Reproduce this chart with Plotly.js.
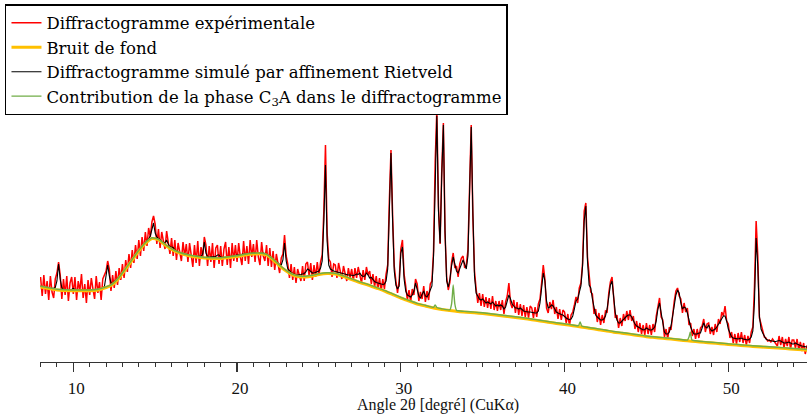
<!DOCTYPE html>
<html>
<head>
<meta charset="utf-8">
<script src="https://cdn.plot.ly/plotly-3.0.1.min.js"></script>
<style>
html, body { margin: 0; padding: 0; overflow: hidden; background: #fff; }
#chart { width: 836px; height: 414px; }
</style>
</head>
<body>
<div id="chart"></div>
<script>
// Angle grid of the measured / simulated patterns (2θ, degrees)
const angleStart = 8.0;
const angleStep = 0.1;

// Simulated pattern (Rietveld refinement), one value per 0.1° from 8.0° to 55.0°
const calcIntensity = [
75, 74.6, 74.3, 74, 73.6, 73.3, 73, 72.8, 72.6, 73.5,
80, 97, 82, 73, 71.8, 71.5, 71.4, 71.3, 71.3, 71.5,
72.5, 71.5, 71.2, 71.2, 71.2, 71.2, 71.2, 71.2, 71.2, 71.3,
71.3, 71.4, 71.5, 71.6, 71.8, 72, 72.3, 72.6, 73, 74.5,
84, 96, 85, 78, 77.5, 79, 80, 82, 84, 86.3,
88.5, 90.8, 93, 95.3, 97.5, 99.8, 102, 104.3, 106.5, 108.8,
111, 113, 115, 117, 118.7, 120.5, 122, 125, 133, 138,
128, 124, 122.5, 121, 119.5, 118.5, 118.5, 121, 117, 114,
114, 113.5, 111, 110, 109.2, 108.5, 108.2, 107.7, 107.3, 106.9,
106.5, 106.2, 105.8, 105.5, 105.2, 105, 104.8, 104.6, 104.5, 107,
119, 108, 104.5, 104, 104, 104, 104, 104.5, 106, 106,
104, 103.6, 103.7, 103.8, 104, 104.3, 104.6, 104.9, 105.2, 105.5,
105.8, 106.1, 106.4, 106.7, 107, 107.3, 107.6, 107.8, 108, 108.1,
108.2, 108.3, 108.3, 108.3, 108.3, 108.2, 108, 107.5, 106.8, 105.8,
105, 103.5, 102, 100.5, 99, 97.5, 96.5, 96, 101, 118,
100, 92, 90, 88.5, 87.5, 86.5, 86.3, 86, 86, 86.5,
87, 87.5, 89, 92, 91, 89, 88, 88, 88.5, 89,
90, 93, 100, 140, 196, 120, 96, 92, 90.5, 90,
89.5, 89, 88.5, 88, 87.5, 87, 86.5, 86, 86, 86,
85.5, 85.5, 86, 87, 86.5, 88, 85.5, 84.5, 85, 88,
86, 83, 83.5, 81, 79.5, 78.5, 78, 77, 76.5, 76.5,
77, 80, 92, 150, 208, 140, 90, 76, 72, 75,
108, 114, 82, 70, 66, 65, 64, 66, 70, 78,
72, 65, 63, 66, 70, 65, 64, 67, 72, 75,
105, 190, 245, 150, 118, 185, 236, 130, 80, 74,
82, 95, 104, 97, 90, 88, 92, 98, 101, 97,
92, 105, 170, 234, 150, 85, 68, 64, 62, 61,
62, 60, 58, 59, 58, 57, 59, 57, 55, 56,
55, 56, 55, 52, 54, 60, 66, 62, 57, 55,
53, 53, 52, 53, 51, 50, 49.5, 49, 49, 49,
48.5, 48.5, 48, 48, 50, 58, 72, 88, 80, 60,
53, 54, 56, 55, 52, 49, 48, 47, 46.5, 46,
44, 43, 42, 41.5, 42, 45, 52, 60, 62, 68,
75, 95, 140, 155, 100, 76, 73, 62, 52, 46,
44, 42, 41, 41, 42, 45, 52, 64, 76, 80,
62, 48, 41, 38, 38, 40, 42, 44, 45, 46,
46, 44, 40, 37, 35, 34, 33, 32, 31, 31.5,
33, 32, 31, 31, 32, 34, 40, 52, 58, 48,
36, 29, 27, 27, 29, 35, 45, 58, 66, 71,
68, 58, 52, 54, 53, 48, 40, 34, 30, 27,
27, 27, 28, 28, 33, 38, 34, 33, 36, 32,
30, 31, 32, 34, 37, 40, 43, 45, 45, 40,
32, 27, 24, 23, 22.5, 22, 22, 22.5, 23, 22,
21.5, 21, 21, 22, 24, 30, 60, 123, 95, 45,
32, 28, 25, 22, 21, 20.5, 20, 20, 19.5, 19.5,
20, 20.5, 20, 19, 18, 18, 18.5, 19, 18, 17,
17, 18, 17, 16, 15.5, 15, 14.5, 14, 14, 13.8,
13.5
];

// Experimental pattern, one value per 0.1° from 8.0° to 55.0°
const obsIntensity = [
84, 65, 86, 67, 80, 61, 85, 69, 63, 82,
88, 99, 86, 62, 82, 66, 85, 60, 78, 84,
67, 84, 61, 80, 70, 87, 63, 77, 58, 81,
66, 83, 72, 62, 85, 68, 79, 61, 82, 86,
90, 100, 92, 70, 86, 73, 90, 76, 93, 81,
97, 83, 101, 89, 107, 93, 111, 98, 116, 102,
121, 105, 124, 110, 129, 115, 133, 124, 139, 145,
137, 117, 132, 113, 129, 120, 112, 130, 119, 107,
123, 105, 121, 101, 118, 108, 100, 119, 105, 117,
99, 118, 104, 94, 116, 98, 120, 95, 114, 103,
124, 116, 95, 115, 99, 118, 93, 113, 116, 97,
115, 95, 112, 119, 96, 114, 93, 118, 100, 116,
99, 118, 104, 96, 120, 100, 115, 97, 121, 104,
117, 99, 121, 104, 96, 119, 105, 100, 116, 95,
113, 94, 110, 91, 107, 95, 88, 103, 107, 126,
105, 97, 83, 97, 81, 94, 78, 92, 85, 80,
95, 80, 97, 99, 85, 98, 81, 96, 84, 99,
85, 99, 106, 150, 216, 128, 102, 99, 84, 97,
96, 83, 98, 89, 82, 95, 86, 80, 93, 83,
92, 80, 93, 83, 94, 85, 78, 91, 81, 94,
86, 90, 77, 87, 74, 85, 72, 83, 70, 82,
72, 87, 96, 160, 211, 145, 95, 80, 68, 80,
112, 121, 87, 75, 61, 71, 59, 72, 66, 82,
77, 60, 69, 62, 75, 59, 70, 61, 77, 80,
110, 200, 251, 155, 117, 190, 238, 128, 84, 71,
79, 99, 108, 93, 95, 84, 97, 103, 105, 93,
96, 111, 175, 236, 145, 90, 72, 58, 68, 55,
67, 54, 64, 53, 63, 52, 65, 51, 60, 50,
60, 51, 61, 47, 59, 65, 78, 58, 53, 61,
48, 59, 46, 57, 45, 56, 44, 54, 43, 55,
53, 43, 54, 44, 57, 62, 78, 96, 82, 53,
48, 59, 52, 61, 47, 54, 42, 52, 41, 51,
49, 38, 47, 35, 46, 49, 56, 64, 58, 73,
78, 98, 150, 158, 104, 82, 69, 67, 47, 52,
39, 48, 36, 46, 38, 50, 49, 68, 79, 84,
66, 43, 46, 33, 43, 35, 47, 40, 50, 41,
51, 40, 45, 32, 40, 29, 38, 27, 36, 26,
38, 27, 36, 26, 37, 29, 45, 55, 63, 44,
41, 24, 32, 22, 34, 31, 49, 60, 70, 73,
65, 62, 48, 58, 49, 53, 36, 38, 25, 32,
22, 32, 23, 33, 35, 42, 29, 37, 38, 27,
34, 26, 37, 29, 42, 37, 49, 45, 55, 40,
37, 23, 29, 18, 27, 17, 28, 19, 29, 18,
26, 16, 25, 18, 29, 34, 75, 140, 105, 43,
37, 29, 24, 23, 20, 21, 19, 22, 20, 17,
15, 25, 16, 24, 13, 22, 15, 24, 12, 21,
21, 13, 22, 11, 19, 10, 18, 7, 15, 17,
11
];

// Background (bruit de fond)
const bgAngle = [8, 8.5, 9, 9.5, 10, 10.5, 11, 11.5, 12, 12.4, 12.8, 13.2, 13.6, 14, 14.4, 14.8, 15.2, 15.6, 16, 16.5, 17, 17.5, 18, 18.5, 19, 19.5, 20, 20.5, 21, 21.5, 21.8, 22.2, 22.6, 23, 23.4, 23.8, 24.2, 24.6, 25, 25.5, 26, 26.5, 27, 27.5, 28, 28.5, 29, 29.5, 30, 30.5, 31, 31.5, 32, 32.5, 33, 33.5, 34, 34.5, 35, 35.5, 36, 36.5, 37, 37.5, 38, 38.5, 39, 39.5, 40, 40.5, 41, 41.5, 42, 42.5, 43, 43.5, 44, 44.5, 45, 45.5, 46, 46.5, 47, 47.5, 48, 48.5, 49, 49.5, 50, 50.5, 51, 51.5, 52, 52.5, 53, 53.5, 54, 54.5, 55];
const bgIntensity = [74, 72.5, 71, 70.5, 70.3, 70.2, 70.3, 71, 73.5, 76.5, 83, 92, 101, 110, 117.5, 122.5, 121, 116, 111.5, 107.8, 105.5, 104, 103, 102.5, 102.5, 103.5, 104.5, 106, 107, 107, 106, 101, 95, 90, 86, 84.3, 84.1, 85, 86.5, 87.5, 87, 84.5, 81.5, 78.5, 76, 73, 70, 66.5, 63, 60, 57, 55, 53, 51.5, 50.5, 49.5, 48.8, 48.2, 47.5, 46.6, 45.6, 44.5, 43.5, 42.5, 41.3, 40, 38.8, 37.6, 36.5, 35.3, 34, 32.8, 31.5, 30.3, 28.8, 27.8, 26.7, 25.5, 24.3, 23.5, 22.7, 21.9, 21, 20.2, 19.5, 18.7, 18, 17.3, 16.5, 15.9, 15.2, 14.6, 14, 13.5, 13, 12.4, 11.8, 11.2, 10.5];

// Contribution of the C3A phase
const c3aAngle = [8, 8.5, 9, 9.5, 10, 10.5, 11, 11.5, 12, 12.4, 12.8, 13.2, 13.6, 14, 14.4, 14.8, 15.2, 15.6, 16, 16.5, 17, 17.5, 18, 18.5, 19, 19.5, 20, 20.5, 21, 21.5, 21.8, 22.2, 22.6, 23, 23.4, 23.8, 24.2, 24.6, 25, 25.5, 26, 26.5, 27, 27.5, 28, 28.5, 29, 29.5, 30, 30.5, 31, 31.5, 32, 32.1, 32.2, 32.5, 33, 33.1, 33.15, 33.2, 33.25, 33.3, 33.4, 33.5, 34, 34.5, 35, 35.5, 36, 36.5, 37, 37.5, 38, 38.5, 39, 39.5, 40, 40.5, 40.85, 40.95, 41.05, 41.5, 42, 42.5, 43, 43.5, 44, 44.5, 45, 45.5, 46, 46.5, 47, 47.5, 47.6, 47.68, 47.78, 48, 48.5, 49, 49.5, 50, 50.5, 51, 51.5, 52, 52.5, 53, 53.5, 54, 54.5, 55];
const c3aIntensity = [74.7, 73.2, 71.7, 71.2, 71, 70.9, 71, 71.7, 74.2, 77.2, 83.7, 92.7, 101.7, 110.7, 118.2, 123.2, 121.7, 116.7, 112.2, 108.5, 106.2, 104.7, 103.7, 103.2, 103.2, 104.2, 105.2, 106.7, 107.7, 107.7, 106.7, 101.7, 95.7, 90.7, 86.7, 85, 84.8, 85.7, 87.2, 88.2, 87.7, 85.2, 82.2, 79.2, 76.7, 73.7, 70.7, 67.2, 63.7, 60.7, 57.7, 55.7, 53.7, 56, 53.5, 52.2, 51.3, 57, 66, 76, 66, 57, 50.8, 50.2, 49.5, 48.9, 48.2, 47.3, 46.3, 45.2, 44.2, 43.2, 42, 40.7, 39.5, 38.3, 37.2, 36, 35.3, 39, 35, 33.5, 32.2, 31, 29.5, 28.5, 27.4, 26.2, 25, 24.2, 23.4, 22.6, 21.7, 20.9, 24, 29, 21, 20.2, 19.4, 18.7, 18, 17.2, 16.6, 15.9, 15.3, 14.7, 14.2, 13.7, 13.1, 12.5, 11.9, 11.2];

const serif = "'Liberation Serif', 'Times New Roman', serif";
const legendSerif = "'DejaVu Serif', 'Liberation Serif', serif";

const traces = [
  { type: 'scatter', mode: 'lines', name: 'Diffractogramme expérimentale',
    x0: angleStart, dx: angleStep, y: obsIntensity,
    line: { color: '#ff0000', width: 1.5 }, legendrank: 1 },
  { type: 'scatter', mode: 'lines', name: 'Diffractogramme simulé par affinement Rietveld',
    x0: angleStart, dx: angleStep, y: calcIntensity,
    line: { color: '#000000', width: 1.1 }, legendrank: 3 },
  { type: 'scatter', mode: 'lines', name: 'Bruit de fond',
    x: bgAngle, y: bgIntensity,
    line: { color: '#ffc000', width: 3, shape: 'spline', smoothing: 0.6 }, legendrank: 2 },
  { type: 'scatter', mode: 'lines', name: 'Contribution de la phase C<sub>3</sub>A dans le diffractogramme',
    x: c3aAngle, y: c3aIntensity,
    line: { color: '#70ad47', width: 1.4, shape: 'spline', smoothing: 0.5 }, legendrank: 4 }
];

const layout = {
  width: 836, height: 414,
  margin: { l: 40, r: 0, t: 103, b: 52, autoexpand: false },
  paper_bgcolor: '#ffffff', plot_bgcolor: '#ffffff',
  font: { family: serif, color: '#111' },
  showlegend: true,
  legend: {
    x: -0.044, y: 1.382, xanchor: 'left', yanchor: 'top',
    bgcolor: '#ffffff', bordercolor: '#000000', borderwidth: 1.5,
    font: { family: legendSerif, size: 16.5, color: '#000' },
    tracegroupgap: 0
  },
  xaxis: {
    range: [7.966, 56.577],
    showline: true, linecolor: '#333', linewidth: 1.3,
    showgrid: false, zeroline: false,
    ticks: 'outside', ticklen: 9, tickwidth: 1.3, tickcolor: '#333',
    tick0: 0, dtick: 10,
    minor: { dtick: 1, ticks: 'outside', ticklen: 4, tickwidth: 1, tickcolor: '#333', showgrid: false },
    tickfont: { family: serif, size: 17, color: '#111' },
    ticklabelshift: 3, ticklabelstandoff: 1,
    title: { text: 'Angle 2θ [degré] (CuKα)', font: { family: serif, size: 16, color: '#111' }, standoff: 6 }
  },
  yaxis: { visible: false, range: [-1, 258], fixedrange: true }
};

Plotly.newPlot('chart', traces, layout, { displayModeBar: false, staticPlot: true });
</script>
</body>
</html>
